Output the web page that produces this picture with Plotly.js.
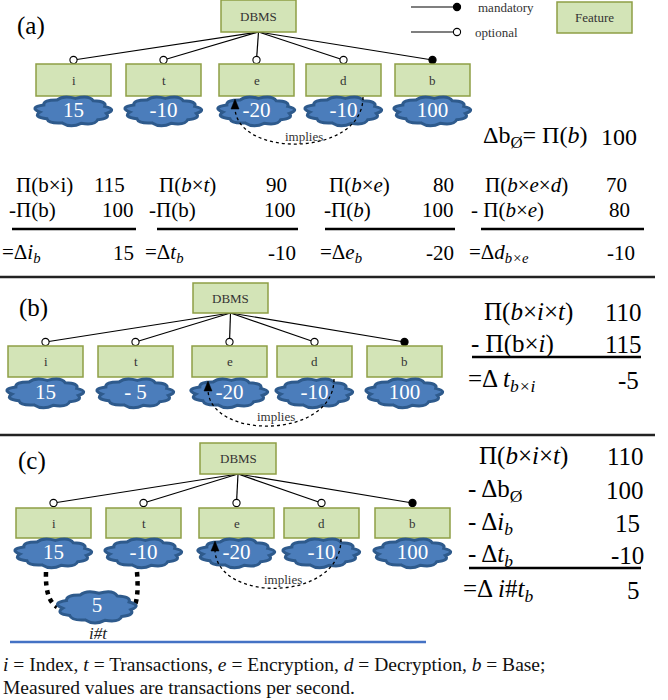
<!DOCTYPE html>
<html><head><meta charset="utf-8">
<script src="https://cdn.plot.ly/plotly-3.0.1.min.js"></script>
<style>body{margin:0;background:#fff}#chart{width:668px;height:700px}</style>
</head><body><div id="chart"></div>
<script>
// ---------------- data ----------------
const rootLabel = 'DBMS';
const features = ['i', 't', 'e', 'd', 'b'];
const mandatory = [false, false, false, false, true];
const valuesA = [15, -10, -20, -10, 100];
const valuesB = [15, -5, -20, -10, 100];
const valuesC = [15, -10, -20, -10, 100];
const interactionLabel = 'i#t';
const interactionValue = 5;
const baseValue = 100;

// panel (a) equations
const eqTopLabels = ['Π(b×i)', 'Π(<i>b</i>×<i>t</i>)', 'Π(<i>b</i>×<i>e</i>)', 'Π(<i>b</i>×<i>e</i>×<i>d</i>)'];
const eqTopValues = [115, 90, 80, 70];
const eqSubLabels = ['-Π(b)', '-Π(b)', '-Π(<i>b</i>)', '- Π(<i>b</i>×<i>e</i>)'];
const eqSubValues = [100, 100, 100, 80];
const eqResLabels = ['=Δ<i>i</i><sub><i>b</i></sub>', '=Δ<i>t</i><sub><i>b</i></sub>', '=Δ<i>e</i><sub><i>b</i></sub>', '=Δ<i>d</i><sub><i>b×e</i></sub>'];
const eqResValues = [15, -10, -20, -10];

// panel (b) equation
const eqBLabels = ['Π(<i>b</i>×<i>i</i>×<i>t</i>)', '- Π(b×<i>i</i>)', '=Δ <i>t</i><sub><i>b×i</i></sub>'];
const eqBValues = [110, 115, -5];

// panel (c) equation
const eqCLabels = ['Π(<i>b</i>×<i>i</i>×<i>t</i>)', '- Δb<sub>Ø</sub>', '- Δ<i>i</i><sub><i>b</i></sub>', '- Δ<i>t</i><sub><i>b</i></sub>', '=Δ <i>i</i>#<i>t</i><sub><i>b</i></sub>'];
const eqCValues = [110, 100, 15, -10, 5];

const footnote1 = '<i>i</i> = Index, <i>t</i> = Transactions, <i>e</i> = Encryption, <i>d</i> = Decryption, <i>b</i> = Base;';
const footnote2 = 'Measured values are transactions per second.';

// ---------------- layout geometry ----------------
const SERIF = 'Liberation Serif';
const BOX_FILL = '#d3e4b7', BOX_LINE = '#8f9e45';
const CLOUD_FILL = '#4b7dbb', CLOUD_LINE = '#2e5a8c';
const BW = 75;

const panels = [
  {label: '(a)', lx: 31, ly: 26, root: [221, 296, 0, 32], circY: 60, boxY: [64, 96],
   lefts: [36, 126, 219, 306, 395], cloudY: 111, values: valuesA,
   implies: {from: [363, 97], to: [235, 100], bottom: 158, tx: 304, ty: 136}},
  {label: '(b)', lx: 33, ly: 308, root: [193, 268, 283, 313], circY: 342, boxY: [346, 377],
   lefts: [8, 98, 192, 277, 367], cloudY: 393, values: valuesB,
   implies: {from: [334, 379], to: [208, 382], bottom: 440, tx: 276, ty: 416}},
  {label: '(c)', lx: 32, ly: 461, root: [200, 276, 443, 474], circY: 503, boxY: [508, 538],
   lefts: [16, 106, 199, 284, 375], cloudY: 553, values: valuesC,
   implies: {from: [341, 539], to: [215, 542], bottom: 603, tx: 283, ty: 579}}
];

const shapes = [];
const annotations = [];
const textX = [], textY = [], textT = [];

function fmt(v) {
  if (v < 0) return (Math.abs(v) < 10 ? '- ' : '-') + Math.abs(v);
  return String(v);
}

function cloudPath(cx, cy, rx, ry) {
  const n = 11;
  const pts = [];
  for (let k = 0; k <= n; k++) {
    const a = Math.PI * 2 * k / n + 0.2;
    pts.push([cx + rx * Math.cos(a), cy + ry * Math.sin(a)]);
  }
  let p = 'M ' + pts[0][0].toFixed(1) + ' ' + pts[0][1].toFixed(1);
  for (let k = 0; k < n; k++) {
    const am = Math.PI * 2 * (k + 0.5) / n + 0.2;
    const f = 1.32 + 0.06 * ((k % 3) - 1);
    const c = [cx + rx * f * Math.cos(am), cy + ry * f * Math.sin(am)];
    p += ' Q ' + c[0].toFixed(1) + ' ' + c[1].toFixed(1) + ' ' + pts[k + 1][0].toFixed(1) + ' ' + pts[k + 1][1].toFixed(1);
  }
  return p + ' Z';
}

function addShape(s) { s.xref = 'x'; s.yref = 'y'; s.layer = 'below'; shapes.push(s); }

function addCloud(cx, cy, w, h) {
  addShape({type: 'path', path: cloudPath(cx, cy, w / 2 * 0.84, h / 2 * 0.72),
    fillcolor: CLOUD_FILL, line: {color: CLOUD_LINE, width: 3}});
}

function txt(x, y, t, size, anchor, color) {
  annotations.push({x: x, y: y, xref: 'x', yref: 'y', text: t, showarrow: false,
    xanchor: anchor || 'center', yanchor: 'middle', font: {family: SERIF, size: size, color: color || '#000'}});
}

function circle(x, y, filled) {
  const r = 3.6;
  addShape({type: 'circle', x0: x - r, x1: x + r, y0: y - r, y1: y + r,
    fillcolor: filled ? '#000' : '#fff', line: {color: '#000', width: 1.1}});
}

function hline(x0, x1, y, color, width) {
  addShape({type: 'line', x0: x0, x1: x1, y0: y, y1: y, line: {color: color, width: width}});
}

panels.forEach(function (P) {
  txt(P.lx, P.ly, P.label, 25);
  const rx = (P.root[0] + P.root[1]) / 2, ry = P.root[3];
  features.forEach(function (f, k) {
    const cx = P.lefts[k] + BW / 2;
    addShape({type: 'line', x0: rx, y0: ry, x1: cx, y1: P.circY, line: {color: '#000', width: 1.2}});
  });
  addShape({type: 'rect', x0: P.root[0], x1: P.root[1], y0: P.root[2], y1: P.root[3],
    fillcolor: BOX_FILL, line: {color: BOX_LINE, width: 1.5}});
  txt(rx, (P.root[2] + P.root[3]) / 2, rootLabel, 13, 'center', '#333');
  features.forEach(function (f, k) {
    const cx = P.lefts[k] + BW / 2;
    circle(cx, P.circY, mandatory[k]);
    addShape({type: 'rect', x0: P.lefts[k], x1: P.lefts[k] + BW, y0: P.boxY[0], y1: P.boxY[1],
      fillcolor: BOX_FILL, line: {color: BOX_LINE, width: 1.5}});
    txt(cx, (P.boxY[0] + P.boxY[1]) / 2, f, 13, 'center', '#333');
  });
  features.forEach(function (f, k) {
    const cx = P.lefts[k] + BW / 2;
    addCloud(cx, P.cloudY, 80, 35);
    textX.push(cx); textY.push(P.cloudY + 1); textT.push(fmt(P.values[k]));
  });
  const I = P.implies;
  addShape({type: 'path',
    path: 'M ' + I.from[0] + ' ' + I.from[1] + ' C ' + I.from[0] + ' ' + I.bottom + ', ' + I.to[0] + ' ' + I.bottom + ', ' + I.to[0] + ' ' + (I.to[1] + 7),
    line: {color: '#000', width: 1.3, dash: 'dot'}});
  addShape({type: 'path',
    path: 'M ' + (I.to[0] - 4) + ' ' + (I.to[1] + 9) + ' L ' + I.to[0] + ' ' + (I.to[1] - 1) + ' L ' + (I.to[0] + 4) + ' ' + (I.to[1] + 9) + ' Z',
    fillcolor: '#000', line: {color: '#000', width: 0.5}});
  txt(I.tx, I.ty, 'implies', 13, 'center', '#333');
});

// interaction cloud (c)
addShape({type: 'path', path: 'M 46 572 Q 45 600 57 607', line: {color: '#000', width: 4.5, dash: 'dot'}});
addShape({type: 'path', path: 'M 137 572 Q 139 598 134 607', line: {color: '#000', width: 4.5, dash: 'dot'}});
addCloud(97, 607, 82, 38);
textX.push(97); textY.push(607); textT.push(String(interactionValue));
txt(98, 633, '<i>' + interactionLabel + '</i>', 17, 'center', '#222');

// legend (top right)
hline(411, 457, 7, '#000', 1.2);
circle(457, 7, true);
hline(411, 457, 32, '#000', 1.2);
circle(457, 32, false);
txt(476, 7, 'mandatory', 13, 'left', '#333');
txt(473, 32, 'optional', 13, 'left', '#333');
addShape({type: 'rect', x0: 557, x1: 632, y0: 2, y1: 33, fillcolor: BOX_FILL, line: {color: BOX_LINE, width: 1.5}});
txt(594.5, 17.5, 'Feature', 13, 'center', '#333');

// base
txt(481, 137, 'Δb<sub>Ø</sub>= Π(<i>b</i>)', 24, 'left');
txt(639, 137, String(baseValue), 24, 'right');

// panel (a) equation columns
const colL = [[14, 7, 0], [157, 147, 143], [327, 322, 318], [483, 469, 467]];
const colR = [[127, 136, 136], [289, 298, 298], [456, 456, 456], [629, 632, 637]];
const colU = [[12, 136], [157, 298], [325, 455], [481, 644]];
const rowY = [185, 210, 253];
for (let c = 0; c < 4; c++) {
  txt(colL[c][0], rowY[0], eqTopLabels[c], 21, 'left');
  txt(colR[c][0], rowY[0], String(eqTopValues[c]), 21, 'right');
  txt(colL[c][1], rowY[1], eqSubLabels[c], 21, 'left');
  txt(colR[c][1], rowY[1], String(eqSubValues[c]), 21, 'right');
  txt(colL[c][2], rowY[2], eqResLabels[c], 21, 'left');
  txt(colR[c][2], rowY[2], String(eqResValues[c]), 21, 'right');
  hline(colU[c][0], colU[c][1], 229, '#000', 2.5);
}

// panel (b) equation
const bL = [482, 469, 466], bR = [644, 644, 641], bY = [312, 344, 380];
for (let k = 0; k < 3; k++) {
  txt(bL[k], bY[k], eqBLabels[k], 25, 'left');
  txt(bR[k], bY[k], String(eqBValues[k]), 25, 'right');
}
hline(472, 641, 357, '#000', 2.5);

// panel (c) equation
const cL = [477, 466, 466, 466, 461], cR = [646, 646, 642, 646, 642], cY = [456, 490, 523, 555, 590];
for (let k = 0; k < 5; k++) {
  txt(cL[k], cY[k], eqCLabels[k], 25, 'left');
  txt(cR[k], cY[k], String(eqCValues[k]), 25, 'right');
}
hline(469, 641, 568, '#000', 2.5);

// dividers
hline(0, 655, 277, '#222', 2.5);
hline(0, 655, 435, '#222', 2.5);
hline(10, 426, 642, '#4472c4', 2.5);

// footnote
txt(1, 664, footnote1, 19.5, 'left', '#111');
txt(1, 687, footnote2, 19.5, 'left', '#111');

const traces = [{
  type: 'scatter', mode: 'text', x: textX, y: textY, text: textT,
  textfont: {family: SERIF, size: 21, color: '#ffffff'}, hoverinfo: 'skip', showlegend: false
}];

const layout = {
  width: 668, height: 700, margin: {l: 0, r: 0, t: 0, b: 0},
  paper_bgcolor: '#fff', plot_bgcolor: 'rgba(0,0,0,0)', showlegend: false,
  xaxis: {range: [0, 668], visible: false, fixedrange: true},
  yaxis: {range: [700, 0], visible: false, fixedrange: true},
  shapes: shapes, annotations: annotations
};
Plotly.newPlot('chart', traces, layout, {displayModeBar: false, staticPlot: true});
</script>
</body></html>
